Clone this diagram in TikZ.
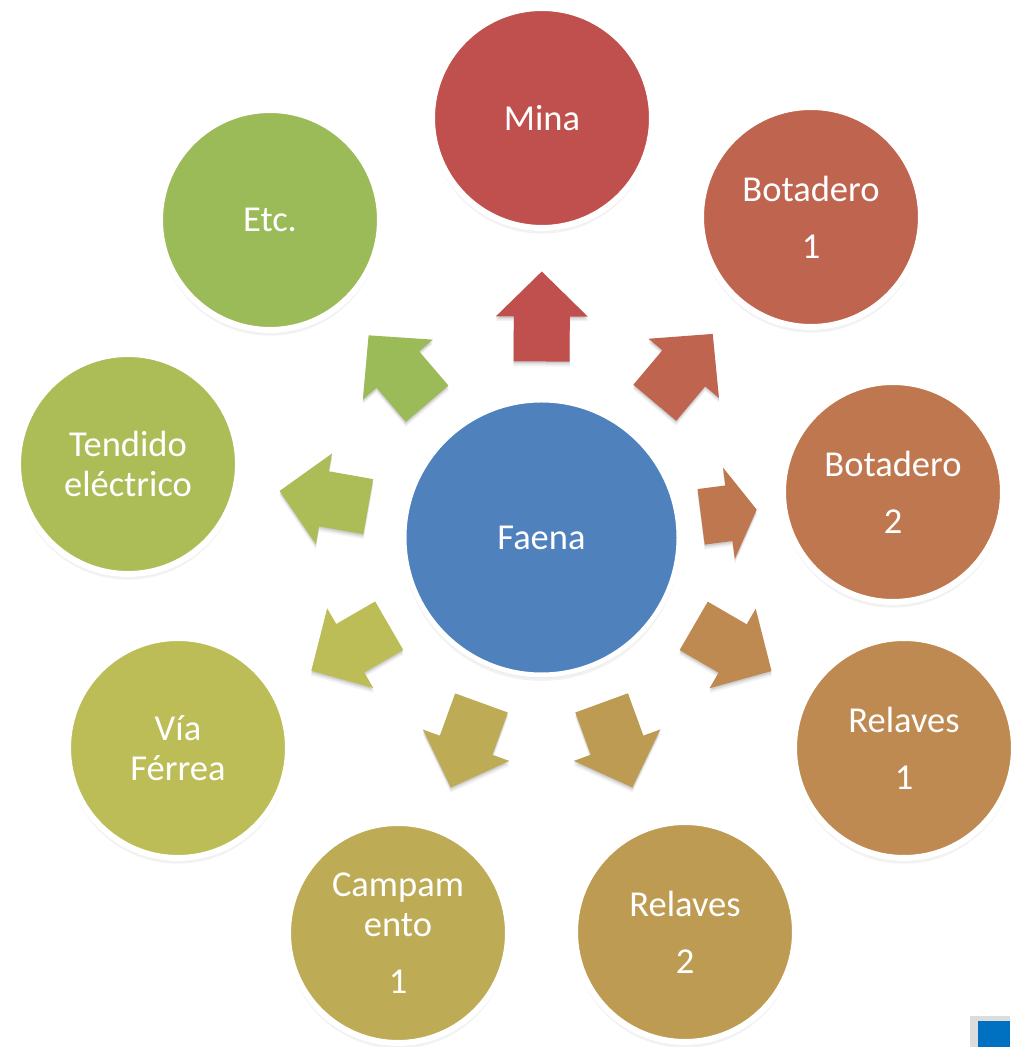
\documentclass[tikz,border=0pt]{standalone}
\usepackage{fontspec}
\setmainfont{Carlito}
\usetikzlibrary{calc,shadows}
\definecolor{cMina}{RGB}{192,80,77}
\definecolor{cBotA}{RGB}{191,100,79}
\definecolor{cBotB}{RGB}{191,119,80}
\definecolor{cRelA}{RGB}{190,138,82}
\definecolor{cRelB}{RGB}{190,155,83}
\definecolor{cCamp}{RGB}{189,171,85}
\definecolor{cVia}{RGB}{189,189,87}
\definecolor{cTend}{RGB}{172,189,88}
\definecolor{cEtc}{RGB}{155,187,89}
\definecolor{cFaena}{RGB}{79,129,189}
\definecolor{cCorner}{RGB}{0,112,192}
\definecolor{cCornerEdge}{RGB}{220,220,220}
\tikzset{
  softshadow/.style={
    drop shadow={shadow xshift=0pt, shadow yshift=-4.5pt, shadow scale=1.01, opacity=0.05, fill=black},
    drop shadow={shadow xshift=0pt, shadow yshift=-3pt, opacity=0.07, fill=black},
    drop shadow={shadow xshift=0pt, shadow yshift=-1.5pt, opacity=0.08, fill=black}},
  item/.style={circle, draw=white, line width=6pt, minimum size=220pt, inner sep=0pt,
    text=white, align=center, font=\fontsize{36.5pt}{40pt}\selectfont, softshadow},
  hub/.style={item, line width=5pt, minimum size=275pt},
}
% #1 target node, #2 colour, #3 tail radius, #4 head-base radius, #5 tip radius
\newcommand\flowarrow[5]{%
  \path[fill=#2, softshadow] let \p1=($(#1)-(F)$), \n1={atan2(\y1,\x1)} in
    ($(F)+(\n1:#3)+({\n1+90}:28pt)$) -- ($(F)+(\n1:#4)+({\n1+90}:28pt)$) --
    ($(F)+(\n1:#4)+({\n1+90}:46pt)$) -- ($(F)+(\n1:#5)$) --
    ($(F)+(\n1:#4)+({\n1-90}:46pt)$) -- ($(F)+(\n1:#4)+({\n1-90}:28pt)$) --
    ($(F)+(\n1:#3)+({\n1-90}:28pt)$) -- cycle;}
\begin{document}
\begin{tikzpicture}[x=1pt,y=1pt]
\useasboundingbox (0,0) rectangle (1010,1047);
\fill[white] (0,0) rectangle (1010,1047);

\node[hub, fill=cFaena] (F) at (541.5,509.5) {Faena};
\node[item, fill=cMina] (mina) at (542,929) {Mina};
\node[item, fill=cBotA] (bota) at (811,830) {Botadero\\[17pt]1};
\node[item, fill=cBotB] (botb) at (893,555) {Botadero\\[17pt]2};
\node[item, fill=cRelA] (rela) at (904,299) {Relaves\\[17pt]1};
\node[item, fill=cRelB] (relb) at (685,115) {Relaves\\[17pt]2};
\node[item, fill=cCamp] (camp) at (398,114) {Campam\\ento\\[17pt]1};
\node[item, fill=cVia] (via) at (178,299) {Vía\\Férrea};
\node[item, fill=cTend] (tend) at (128,583) {Tendido\\eléctrico};
\node[item, fill=cEtc] (etc) at (270,827) {Etc.};

\flowarrow{mina}{cMina}{176pt}{221pt}{266pt}
\flowarrow{bota}{cBotA}{176pt}{221pt}{266pt}
\flowarrow{botb}{cBotB}{161pt}{189pt}{217pt}
\flowarrow{rela}{cRelA}{176pt}{221pt}{266pt}
\flowarrow{relb}{cRelB}{176pt}{221pt}{266pt}
\flowarrow{camp}{cCamp}{176pt}{221pt}{266pt}
\flowarrow{via}{cVia}{176pt}{221pt}{266pt}
\flowarrow{tend}{cTend}{176pt}{221pt}{266pt}
\flowarrow{etc}{cEtc}{176pt}{221pt}{266pt}

\fill[cCornerEdge] (970,0) rectangle (1010,31);
\fill[cCorner] (977.7,0) rectangle (1010,26);
\end{tikzpicture}
\end{document}
